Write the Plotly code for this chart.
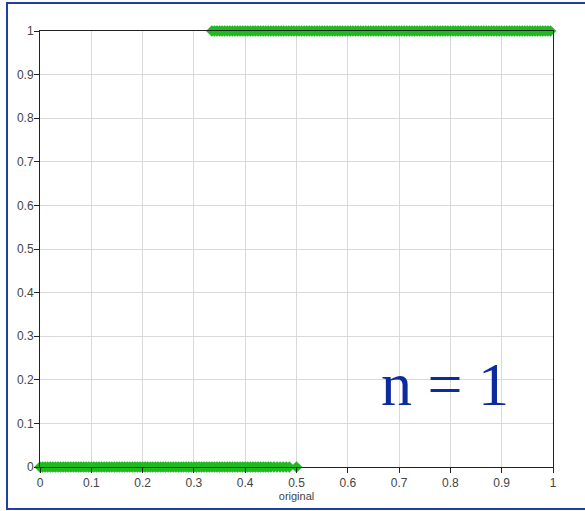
import plotly.graph_objects as go

# Points at output 0
x_zero = [0.0, 0.005, 0.01, 0.015, 0.02, 0.025, 0.03, 0.035, 0.04, 0.045,
          0.05, 0.055, 0.06, 0.065, 0.07, 0.075, 0.08, 0.085, 0.09, 0.095,
          0.1, 0.105, 0.11, 0.115, 0.12, 0.125, 0.13, 0.135, 0.14, 0.145,
          0.15, 0.155, 0.16, 0.165, 0.17, 0.175, 0.18, 0.185, 0.19, 0.195,
          0.2, 0.205, 0.21, 0.215, 0.22, 0.225, 0.23, 0.235, 0.24, 0.245,
          0.25, 0.255, 0.26, 0.265, 0.27, 0.275, 0.28, 0.285, 0.29, 0.295,
          0.3, 0.305, 0.31, 0.315, 0.32, 0.325, 0.33, 0.335, 0.34, 0.345,
          0.35, 0.355, 0.36, 0.365, 0.37, 0.375, 0.38, 0.385, 0.39, 0.395,
          0.4, 0.405, 0.41, 0.415, 0.42, 0.425, 0.43, 0.435, 0.44, 0.445,
          0.45, 0.456, 0.462, 0.468, 0.474, 0.48, 0.486, 0.5]
y_zero = [0] * len(x_zero)

# Points at output 1
x_one = [0.335, 0.34, 0.345, 0.35, 0.355, 0.36, 0.365, 0.37, 0.375, 0.38,
         0.385, 0.39, 0.395, 0.4, 0.405, 0.41, 0.415, 0.42, 0.425, 0.43,
         0.435, 0.44, 0.445, 0.45, 0.455, 0.46, 0.465, 0.47, 0.475, 0.48,
         0.485, 0.49, 0.495, 0.5, 0.505, 0.51, 0.515, 0.52, 0.525, 0.53,
         0.535, 0.54, 0.545, 0.55, 0.555, 0.56, 0.565, 0.57, 0.575, 0.58,
         0.585, 0.59, 0.595, 0.6, 0.605, 0.61, 0.615, 0.62, 0.625, 0.63,
         0.635, 0.64, 0.645, 0.65, 0.655, 0.66, 0.665, 0.67, 0.675, 0.68,
         0.685, 0.69, 0.695, 0.7, 0.705, 0.71, 0.715, 0.72, 0.725, 0.73,
         0.735, 0.74, 0.745, 0.75, 0.755, 0.76, 0.765, 0.77, 0.775, 0.78,
         0.785, 0.79, 0.795, 0.8, 0.805, 0.81, 0.815, 0.82, 0.825, 0.83,
         0.835, 0.84, 0.845, 0.85, 0.855, 0.86, 0.865, 0.87, 0.875, 0.88,
         0.885, 0.89, 0.895, 0.9, 0.905, 0.91, 0.915, 0.92, 0.925, 0.93,
         0.935, 0.94, 0.945, 0.95, 0.955, 0.96, 0.965, 0.97, 0.975, 0.98,
         0.985, 0.99, 0.995]
y_one = [1] * len(x_one)

tick_vals = [0, 0.1, 0.2, 0.3, 0.4, 0.5, 0.6, 0.7, 0.8, 0.9, 1]
tick_text = ["0", "0.1", "0.2", "0.3", "0.4", "0.5", "0.6", "0.7", "0.8", "0.9", "1"]

green = "#1fba1f"
marker = dict(symbol="diamond", size=9, color=green, opacity=1, line=dict(width=0))

fig = go.Figure()
fig.add_trace(go.Scatter(x=x_zero, y=y_zero, mode="markers", marker=marker,
                         cliponaxis=False, showlegend=False))
fig.add_trace(go.Scatter(x=x_one, y=y_one, mode="markers", marker=marker,
                         cliponaxis=False, showlegend=False))

axis_common = dict(
    range=[0, 1], tickvals=tick_vals, ticktext=tick_text,
    showgrid=True, gridcolor="#d9d9d9", gridwidth=1,
    zeroline=False, showline=True, linecolor="#222", linewidth=1, mirror=True,
    ticks="outside", ticklen=5, tickcolor="#222",
    tickfont=dict(family="Arial, Liberation Sans, sans-serif", size=12, color="#444"),
    fixedrange=True,
)

fig.update_xaxes(**axis_common,
                 title=dict(text="original", standoff=2,
                            font=dict(family="Arial, Liberation Sans, sans-serif", size=11, color="#444")))
fig.update_yaxes(**axis_common, ticklabelstandoff=-2)

fig.add_annotation(x=0.789, y=0.19, xref="x", yref="y", text="n = 1", showarrow=False,
                   font=dict(family="Times New Roman, Liberation Serif, serif", size=62, color="#0d2a9e"))

# outer blue frame
fig.add_shape(type="rect", xref="paper", yref="paper",
              x0=-0.0643, x1=1.08, y0=-0.0963, y1=1.064,
              line=dict(color="#1f3fa6", width=2), layer="below")

fig.update_layout(
    width=585, height=511,
    margin=dict(l=40, r=32, t=31, b=44),
    plot_bgcolor="white", paper_bgcolor="white",
)

fig.write_html("out.html")
